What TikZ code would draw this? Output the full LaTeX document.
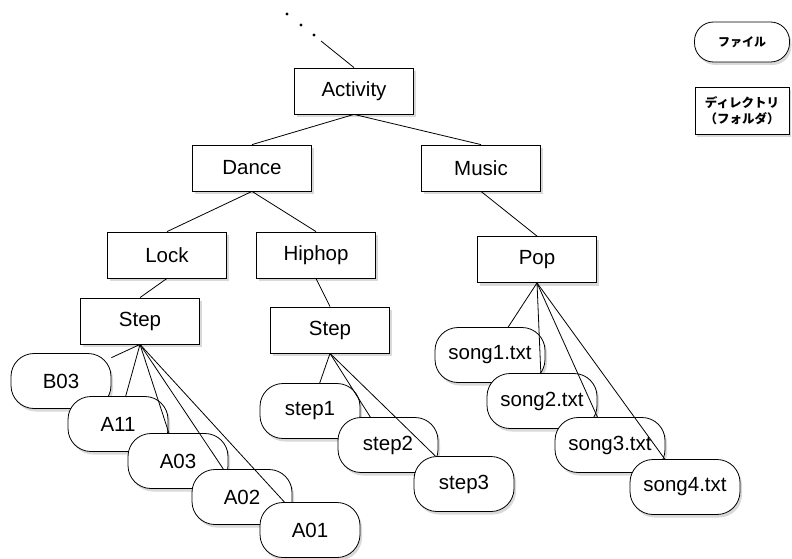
\documentclass[tikz,border=0pt]{standalone}
\usepackage{fontspec}
\setmainfont{Liberation Sans}
\newfontfamily\jpfont{Noto Sans CJK JP}
\usetikzlibrary{shadows}

\begin{document}
\begin{tikzpicture}[x=1pt, y=-1pt,
      every node/.append style={font=\fontsize{20.5}{24}\selectfont},
      dirbox/.style={rectangle, draw=black, thick, fill=white, minimum width=119pt, minimum height=46pt,
        drop shadow={shadow xshift=2pt, shadow yshift=-3pt, opacity=0.3}},
      filebox/.style={rectangle, rounded corners=23pt, draw=black, thick, fill=white, minimum width=100pt, minimum height=55pt,
        drop shadow={shadow xshift=2pt, shadow yshift=-3pt, opacity=0.3}},
      songbox/.style={filebox, minimum width=110pt},
      link/.style={black, thick}]
    \useasboundingbox (0,0) rectangle (792,559);

    % ---------------- directories ----------------
    \node[dirbox] (act)   at (354,91)    {Activity};
    \node[dirbox] (dance) at (252,168)   {Dance};
    \node[dirbox] (music) at (481,168)   {Music};
    \node[dirbox] (lock)  at (167,255)   {Lock};
    \node[dirbox] (hip)   at (316,255)   {Hiphop};
    \node[dirbox] (pop)   at (537,259.5) {Pop};
    \node[dirbox] (lstep) at (140,321)   {Step};
    \node[dirbox] (hstep) at (330,330)   {Step};

    % ---------------- files ----------------
    \node[filebox] (b03) at (61,381)  {B03};
    \node[filebox] (a11) at (118,424) {A11};
    \node[filebox] (a03) at (178,461) {A03};
    \node[filebox] (a02) at (242,497) {A02};
    \node[filebox] (a01) at (310,530) {A01};

    \node[filebox] (s1) at (310,411) {step1};
    \node[filebox] (s2) at (388,445) {step2};
    \node[filebox] (s3) at (464,484) {step3};

    \node[songbox] (g1) at (490,355) {song1.txt};
    \node[songbox] (g2) at (542,401) {song2.txt};
    \node[songbox] (g3) at (610,445) {song3.txt};
    \node[songbox] (g4) at (685,487) {song4.txt};

    % ---------------- links ----------------
    \foreach \a/\b in {act/dance, act/music, dance/lock, dance/hip, music/pop, lock/lstep, hip/hstep}
      \draw[link] (\a.south) -- (\b.north);
    \foreach \b in {b03, a11, a03, a02, a01}
      \draw[link] (lstep.south) -- (\b);
    \foreach \b in {s1, s2, s3}
      \draw[link] (hstep.south) -- (\b);
    \foreach \b in {g1, g2, g3, g4}
      \draw[link] (pop.south) -- (\b);

    % parent continues upwards
    \coordinate (up) at (321,41);
    \draw[link] (up) -- (act.north);
    \foreach \x/\y in {287/14, 301/25, 314/35}
      \fill (\x,\y) circle (1.6pt);

    % ---------------- legend ----------------
    \node[filebox, rounded corners=19pt, minimum width=95pt, minimum height=40pt,
      font=\jpfont\bfseries\fontsize{12}{14}\selectfont] (lgfile) at (742,42) {ファイル};
    \node[dirbox, minimum width=94pt, minimum height=47pt, align=center,
      font=\jpfont\bfseries\fontsize{12.5}{16}\selectfont] (lgdir) at (742,111) {ディレクトリ\\（フォルダ）};
  \end{tikzpicture}
\end{document}
